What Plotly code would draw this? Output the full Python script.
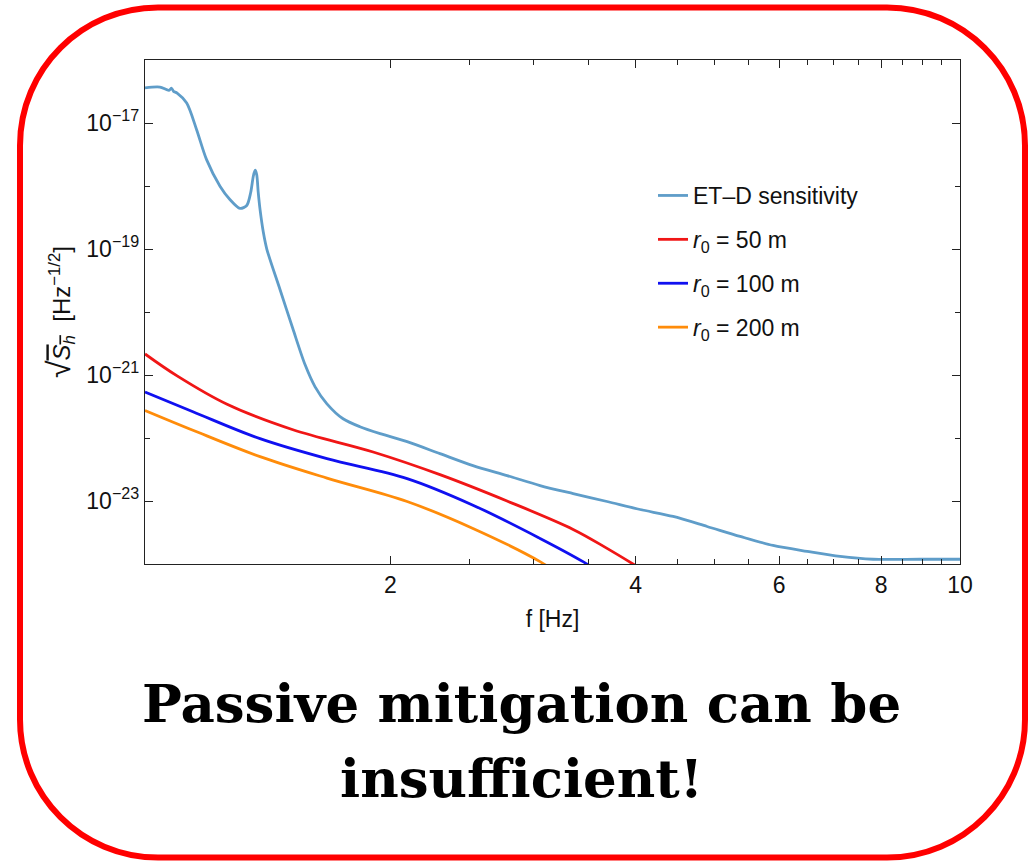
import plotly.graph_objects as go

# ---- data -------------------------------------------------------------
# ET-D sensitivity curve (frequency in Hz, amplitude spectral density in Hz^-1/2)
etd_f = [1.000, 1.043, 1.070, 1.078, 1.084, 1.095, 1.125, 1.157, 1.190, 1.236,
         1.271, 1.308, 1.333, 1.348, 1.358, 1.365, 1.371, 1.377, 1.384, 1.397,
         1.411, 1.464, 1.519, 1.572, 1.617, 1.672, 1.750, 1.835, 1.943, 2.097,
         2.301, 2.526, 2.781, 3.053, 3.352, 3.689, 4.050, 4.446, 4.894, 5.373,
         5.897, 6.493, 7.126, 7.822, 8.929, 10.00]
etd_asd = [3.62e-17, 3.72e-17, 3.30e-17, 3.56e-17, 3.18e-17, 2.99e-17, 2.07e-17, 7.83e-18, 2.62e-18, 9.93e-19,
           6.11e-19, 4.41e-19, 4.91e-19, 7.89e-19, 1.43e-18, 1.78e-18, 1.52e-18, 7.89e-19, 4.25e-19, 1.84e-19,
           9.89e-20, 2.30e-20, 5.36e-21, 1.45e-21, 6.49e-22, 3.49e-22, 2.02e-22, 1.51e-22, 1.17e-22, 8.75e-23,
           5.65e-23, 3.65e-23, 2.53e-23, 1.76e-23, 1.31e-23, 9.82e-24, 7.33e-24, 5.68e-24, 3.94e-24, 2.74e-24,
           1.97e-24, 1.59e-24, 1.32e-24, 1.19e-24, 1.19e-24, 1.19e-24]

# Newtonian noise left after passive mitigation, for three cavern radii r0
r50_f = [1.000, 1.095, 1.261, 1.519, 1.905, 2.301, 2.781, 3.352, 3.689, 4.050]
r50_asd = [2.16e-21, 9.68e-22, 3.43e-22, 1.35e-22, 6.00e-23, 2.62e-23, 1.00e-23, 3.54e-24, 1.77e-24, 8.55e-25]

r100_f = [1.000, 1.145, 1.384, 1.672, 2.097, 2.526, 3.053, 3.447, 3.566]
r100_asd = [5.35e-22, 2.61e-22, 9.75e-23, 4.70e-23, 2.27e-23, 8.59e-24, 2.55e-24, 1.09e-24, 8.24e-25]

r200_f = [1.000, 1.145, 1.384, 1.672, 2.097, 2.526, 3.053, 3.140]
r200_asd = [2.74e-22, 1.33e-22, 5.06e-23, 2.31e-23, 9.82e-24, 3.67e-24, 1.09e-24, 8.55e-25]

series_names = ["ET\u2013D sensitivity",
                "<i>r</i><sub>0</sub> = 50 m",
                "<i>r</i><sub>0</sub> = 100 m",
                "<i>r</i><sub>0</sub> = 200 m"]
series_colors = ["#5f9dc9", "#f01616", "#1010f0", "#ff8c0a"]
series_smoothing = [0.8, 1.0, 1.0, 1.0]

x_major = [2, 4, 6, 8, 10]
x_minor = [2.5, 3, 3.5, 4.5, 5, 5.5, 6.5, 7, 7.5, 8.5, 9, 9.5]
y_major = [1e-17, 1e-19, 1e-21, 1e-23]
y_major_text = ["10<sup>\u221217</sup>", "10<sup>\u221219</sup>",
                "10<sup>\u221221</sup>", "10<sup>\u221223</sup>"]
y_minor = [1e-18, 1e-20, 1e-22]

headline = ["Passive mitigation can be", "insufficient!"]

# ---- figure -----------------------------------------------------------
W, H = 1030, 863
ML, MR, MT, MB = 145, 70, 60, 299
PW, PH = W - ML - MR, H - MT - MB

fig = go.Figure()
for name, xs, ys, col, sm in zip(series_names,
                                 [etd_f, r50_f, r100_f, r200_f],
                                 [etd_asd, r50_asd, r100_asd, r200_asd],
                                 series_colors, series_smoothing):
    fig.add_trace(go.Scatter(x=xs, y=ys, mode="lines", name=name,
                             legendgroup=name,
                             line=dict(color=col, width=2.8, shape="spline", smoothing=sm)))

axis_font = dict(family="Liberation Sans, Arial, sans-serif", size=23, color="#111")

fig.update_xaxes(type="log", range=[0, 1],
                 tickvals=x_major, ticktext=[str(v) for v in x_major],
                 ticks="inside", ticklen=8, tickwidth=1.3, tickcolor="#222",
                 minor=dict(tickvals=x_minor, ticks="inside", ticklen=5, tickwidth=1.2, tickcolor="#222"),
                 showline=True, linecolor="#222", linewidth=1.4, mirror="ticks",
                 showgrid=False, zeroline=False, tickfont=axis_font,
                 title=dict(text="f [Hz]", font=axis_font, standoff=14))

fig.update_yaxes(type="log", range=[-24, -16],
                 tickvals=y_major, ticktext=y_major_text,
                 ticks="inside", ticklen=8, tickwidth=1.3, tickcolor="#222",
                 minor=dict(tickvals=y_minor, ticks="inside", ticklen=5, tickwidth=1.2, tickcolor="#222"),
                 showline=True, linecolor="#222", linewidth=1.4, mirror="ticks",
                 showgrid=False, zeroline=False, tickfont=axis_font,
                 title=dict(text="<span style='font-size:32px'>\u221a</span>"
                                 "<span style='text-decoration:overline'><i>S</i><sub><i>h</i></sub></span>"
                                 "  [Hz<sup>\u22121/2</sup>]",
                            font=dict(family="Liberation Sans, Arial, sans-serif", size=24, color="#111"),
                            standoff=8))


def px_x(x):
    return (x - ML) / PW


def px_y(y):
    return (MT + PH - y) / PH


# rounded red frame around the whole panel
left, right, top, bottom, rad = 20, 1025, 7.5, 857.5, 138
k = 0.5523 * rad
pts = [
    ("M", [(left + rad, top)]),
    ("L", [(right - rad, top)]),
    ("C", [(right - rad + k, top), (right, top + rad - k), (right, top + rad)]),
    ("L", [(right, bottom - rad)]),
    ("C", [(right, bottom - rad + k), (right - rad + k, bottom), (right - rad, bottom)]),
    ("L", [(left + rad, bottom)]),
    ("C", [(left + rad - k, bottom), (left, bottom - rad + k), (left, bottom - rad)]),
    ("L", [(left, top + rad)]),
    ("C", [(left, top + rad - k), (left + rad - k, top), (left + rad, top)]),
]
path = ""
for cmd, cps in pts:
    path += cmd + " ".join(f"{px_x(a):.5f},{px_y(b):.5f}" for a, b in cps) + " "
path += "Z"
fig.add_shape(type="path", path=path, xref="paper", yref="paper",
              line=dict(color="#ff0000", width=6), fillcolor="rgba(0,0,0,0)", layer="above")

head_font = dict(family="DejaVu Serif, serif", size=53, color="#000")
for txt, yc in zip(headline, [703, 778]):
    fig.add_annotation(text=f"<b>{txt}</b>", x=px_x(521), y=px_y(yc), xref="paper", yref="paper",
                       showarrow=False, xanchor="center", yanchor="middle", font=head_font)

fig.update_layout(
    width=W, height=H,
    margin=dict(l=ML, r=MR, t=MT, b=MB, autoexpand=False),
    paper_bgcolor="white", plot_bgcolor="white",
    showlegend=True,
    legend=dict(x=px_x(653), y=px_y(174), xanchor="left", yanchor="top",
                bgcolor="rgba(0,0,0,0)", borderwidth=0,
                font=dict(family="Liberation Sans, Arial, sans-serif", size=23, color="#111"),
                traceorder="grouped", tracegroupgap=11, itemwidth=30),
)

fig.write_html("out.html")
